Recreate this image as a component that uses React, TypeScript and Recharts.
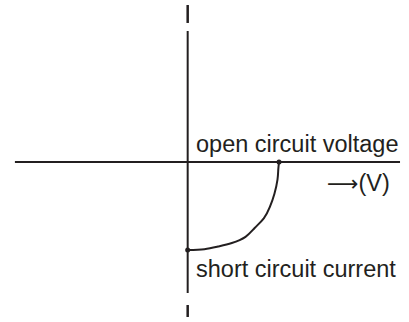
import React from "react";
import {
  ComposedChart,
  Line,
  XAxis,
  YAxis,
  ReferenceLine,
  ReferenceDot,
  Customized,
} from "recharts";

// I-V curve of a solar cell (4th quadrant), V in volts, I normalised to Isc
const voltage = [0, 0.11, 0.2, 0.29, 0.38, 0.44, 0.5, 0.54, 0.57, 0.59, 0.595, 0.6];
const current = [-1, -0.99, -0.96, -0.92, -0.85, -0.75, -0.64, -0.51, -0.36, -0.2, -0.09, 0];

const VOC = 0.6;
const ISC = -1;

const labels = {
  voc: "open circuit voltage",
  isc: "short circuit current",
  arrow: "\u27F6",
  unit: "(V)",
};

const data = voltage.map((v, i) => ({ v, i: current[i] }));

const INK = "#231f20";
const FONT = "'Liberation Sans', Arial, Helvetica, sans-serif";

const Texts = () => (
  <g fontFamily={FONT} fontSize={23.5} fill={INK}>
    <text x={196} y={152}>{labels.voc}</text>
    <text x={327} y={191}>
      <tspan fontFamily="'DejaVu Sans', sans-serif" fontSize={22}>{labels.arrow}</tspan>
      <tspan>{labels.unit}</tspan>
    </text>
    <text x={196} y={277}>{labels.isc}</text>
  </g>
);

export default function App() {
  return (
    <div style={{ position: "absolute", left: 0, top: 0, background: "#fff" }}>
      <ComposedChart
        width={409}
        height={322}
        data={data}
        margin={{ top: 0, right: 0, bottom: 0, left: 0 }}
      >
        <XAxis dataKey="v" type="number" domain={[-1.233, 1.454]} hide allowDataOverflow />
        <YAxis type="number" domain={[-1.818, 1.841]} hide allowDataOverflow />
        {/* horizontal axis */}
        <ReferenceLine
          segment={[{ x: -1.135, y: 0 }, { x: 1.395, y: 0 }]}
          stroke={INK}
          strokeWidth={2}
        />
        {/* vertical axis with its broken ends */}
        <ReferenceLine
          segment={[{ x: 0, y: 1.784 }, { x: 0, y: 1.58 }]}
          stroke={INK}
          strokeWidth={2.5}
        />
        <ReferenceLine
          segment={[{ x: 0, y: 1.489 }, { x: 0, y: -1.489 }]}
          stroke={INK}
          strokeWidth={2}
        />
        <ReferenceLine
          segment={[{ x: 0, y: -1.625 }, { x: 0, y: -1.761 }]}
          stroke={INK}
          strokeWidth={2.5}
        />
        <Line
          dataKey="i"
          type="natural"
          stroke={INK}
          strokeWidth={2}
          dot={false}
          activeDot={false}
          isAnimationActive={false}
        />
        <ReferenceDot x={VOC} y={0} r={2.5} fill={INK} stroke="none" />
        <ReferenceDot x={0} y={ISC} r={2.5} fill={INK} stroke="none" />
        <Customized component={Texts} />
      </ComposedChart>
    </div>
  );
}
